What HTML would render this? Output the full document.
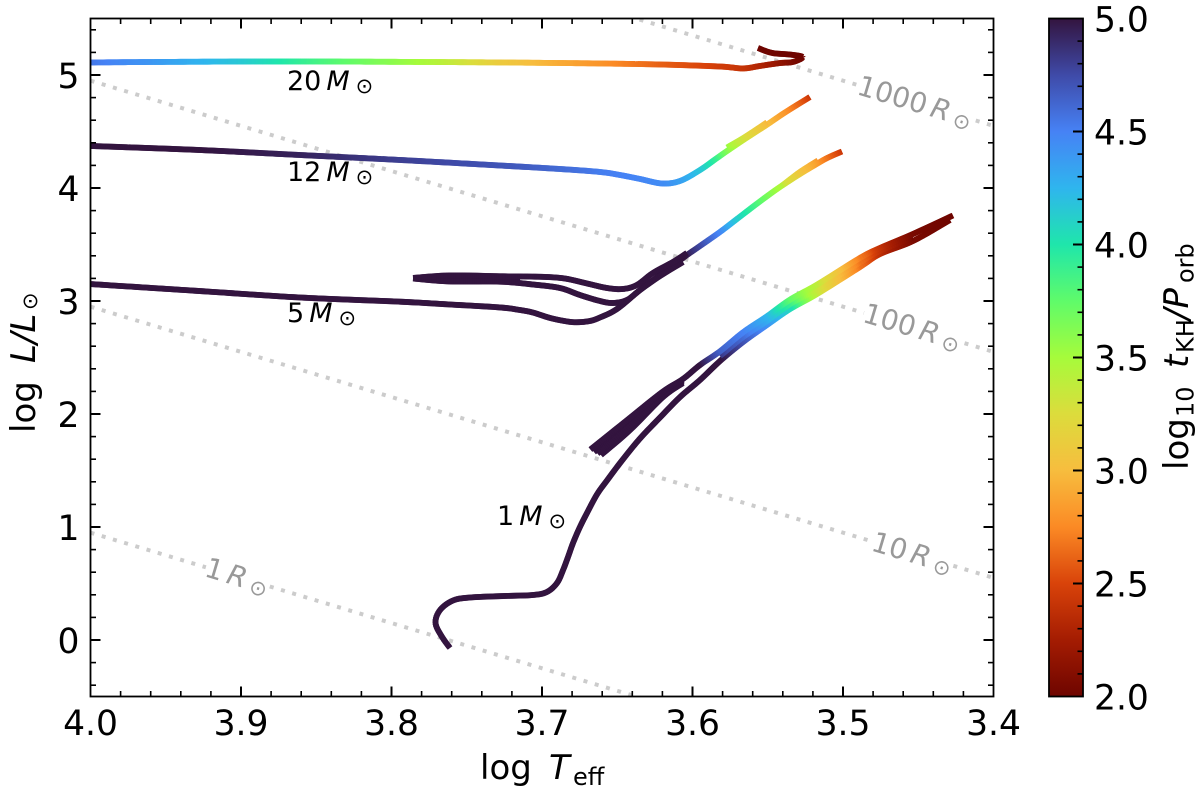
<!DOCTYPE html>
<html lang="en">
<head>
<meta charset="utf-8">
<title>HR diagram</title>
<style>
html,body{margin:0;padding:0;background:#fff;}
svg{display:block;}
text{font-family:"DejaVu Sans","Liberation Sans",sans-serif;}
</style>
</head>
<body>
<svg id="chart" xmlns="http://www.w3.org/2000/svg" width="1200" height="793" viewBox="0 0 1200 793">
  <defs>
    <clipPath id="plot-clip"><rect x="90.5" y="18.5" width="903" height="678"></rect></clipPath>
    <linearGradient id="cbar-gradient" x1="0" y1="0" x2="0" y2="1"></linearGradient>
  </defs>
  <rect x="0" y="0" width="1200" height="793" fill="#fff"></rect>
  <g id="radius-lines" clip-path="url(#plot-clip)"></g>
  <g id="tracks" clip-path="url(#plot-clip)"></g>
  <g id="mass-labels" font-size="27" fill="#000">
    <text x="287" y="90">20<tspan dx="5" font-style="italic">M</tspan><tspan dx="6" dy="3" font-size="21">⊙</tspan></text>
    <text x="287" y="181">12<tspan dx="5" font-style="italic">M</tspan><tspan dx="6" dy="3" font-size="21">⊙</tspan></text>
    <text x="287" y="322">5<tspan dx="5" font-style="italic">M</tspan><tspan dx="6" dy="3" font-size="21">⊙</tspan></text>
    <text x="497" y="525">1<tspan dx="5" font-style="italic">M</tspan><tspan dx="6" dy="3" font-size="21">⊙</tspan></text>
  </g>
  <g id="axes"></g>
  <rect x="90.5" y="18.5" width="903" height="678" fill="none" stroke="#000" stroke-width="1.8"></rect>
  <text y="779" font-size="34" fill="#000"><tspan x="480">log</tspan><tspan x="549" font-style="italic">T</tspan><tspan x="573" y="785" font-size="24">eff</tspan></text>
  <text transform="translate(35,433) rotate(-90)" font-size="34" fill="#000"><tspan x="0" y="0">log</tspan><tspan x="70" font-style="italic">L/L</tspan><tspan x="123" y="2" font-size="21">⊙</tspan></text>
  <rect x="1049" y="18.5" width="34" height="678" fill="url(#cbar-gradient)" stroke="#000" stroke-width="1.8"></rect>
  <g id="cbar-axis"></g>
  <text transform="translate(1188,470) rotate(-90)" font-size="34" fill="#000"><tspan x="0" y="0">log</tspan><tspan x="53" y="5.5" font-size="24">10</tspan><tspan x="102" y="0" font-style="italic">t</tspan><tspan x="117" y="5.5" font-size="24">KH</tspan><tspan x="150" y="0" font-style="italic">/P</tspan><tspan x="187" y="5.5" font-size="24">orb</tspan></text>
</svg>
<script>
// ---------- axis ranges ----------
const xDomain = [4.0, 3.4];
const yDomain = [-0.5, 5.5];
const cbarDomain = [2.0, 5.0];

// ---------- tick labels ----------
const xTickLabels = ["4.0", "3.9", "3.8", "3.7", "3.6", "3.5", "3.4"];
const yTickLabels = ["0", "1", "2", "3", "4", "5"];
const cbarTickLabels = ["2.0", "2.5", "3.0", "3.5", "4.0", "4.5", "5.0"];

// ---------- colormap: value -> colour ----------
const cmapValues = [2.0, 2.25, 2.5, 2.75, 3.0, 3.25, 3.5, 3.75, 4.0, 4.25, 4.5, 4.75, 5.0];
const cmapColors = ["#6e0500", "#a41c02", "#d9430a", "#fb8a25", "#f7bd3e", "#dcdc3c", "#a6fb3b", "#5ffb6a", "#1fe6ab", "#2fb5ee", "#4682f5", "#3f4aa8", "#33143f"];

// ---------- constant-radius lines ----------
const radiusValues = ["1", "10", "100", "1000"];
const radiusLAtHot = [0.95, 2.95, 4.95, 6.95];
const radiusLAtCool = [-1.45, 0.55, 2.55, 4.55];
const radiusLabelTeff = [3.9027, 3.4541, 3.4541, 3.4522];

// ---------- 20 Msun ----------
const t20Teff = [4.000, 3.9605, 3.9007, 3.8409, 3.7744, 3.7279, 3.6880, 3.6615, 3.6216, 3.5817, 3.5665, 3.5552, 3.5419, 3.5332, 3.5266, 3.5352, 3.5472, 3.5565];
const t20L = [5.111, 5.115, 5.119, 5.119, 5.115, 5.111, 5.106, 5.102, 5.093, 5.075, 5.058, 5.080, 5.106, 5.115, 5.159, 5.181, 5.195, 5.239];
const t20Val = [4.55, 4.4, 4.15, 3.8, 3.45, 3.1, 2.9, 2.8, 2.6, 2.45, 2.4, 2.3, 2.15, 2.05, 2.0, 2.0, 2.0, 2.0];

// ---------- 12 Msun ----------
const t12Teff = [4.000, 3.9272, 3.8608, 3.7944, 3.7279, 3.6880, 3.6615, 3.6482, 3.6349, 3.6203, 3.6083, 3.5950, 3.5851, 3.5771, 3.5652, 3.5499, 3.5386, 3.5220];
const t12L = [4.372, 4.336, 4.292, 4.248, 4.199, 4.168, 4.142, 4.115, 4.080, 4.040, 4.062, 4.159, 4.252, 4.327, 4.434, 4.566, 4.668, 4.805];
const t12Val = [5, 5, 4.93, 4.8, 4.7, 4.6, 4.52, 4.5, 4.48, 4.45, 4.35, 4.15, 3.9, 3.6, 3.3, 3.0, 2.8, 2.4];
const t12bTeff = [3.5771, 3.5652, 3.5505];
const t12bL = [4.358, 4.451, 4.580];
const t12bVal = [3.55, 3.25, 2.95];

// ---------- 5 Msun ----------
const t5Teff = [4.000, 3.9272, 3.8608, 3.7944, 3.7611, 3.7279, 3.7146, 3.7060, 3.6947, 3.6834, 3.6767, 3.6681, 3.6615, 3.6502, 3.6349, 3.6216, 3.6063, 3.6037, 3.5950, 3.5817, 3.5718, 3.5552, 3.5419, 3.5286, 3.5186, 3.5106, 3.5007];
const t5L = [3.150, 3.088, 3.031, 2.994, 2.969, 2.943, 2.920, 2.898, 2.850, 2.819, 2.812, 2.823, 2.854, 2.929, 3.097, 3.230, 3.381, 3.407, 3.487, 3.611, 3.712, 3.881, 4.009, 4.124, 4.204, 4.265, 4.323];
const t5Val = [5, 5, 5, 5, 5, 5, 5, 5, 5, 5, 5, 5, 5, 5, 5, 5, 5, 4.95, 4.75, 4.45, 4.15, 3.75, 3.45, 3.1, 2.85, 2.65, 2.4];
const t5bTeff = [3.5399, 3.5286, 3.5166];
const t5bL = [4.027, 4.142, 4.243];
const t5bVal = [3.35, 3.05, 2.8];
const t5TopTeff = [3.7857, 3.7611, 3.7279, 3.7080, 3.6947, 3.6834, 3.6701, 3.6568, 3.6462, 3.6369, 3.6263, 3.6130, 3.6037];
const t5TopL = [3.204, 3.226, 3.219, 3.216, 3.211, 3.196, 3.155, 3.115, 3.106, 3.142, 3.248, 3.345, 3.425];
const t5TopVal = [5, 5, 5, 5, 5, 5, 5, 5, 5, 5, 5, 5, 5];
const t5MidTeff = [3.7857, 3.7611, 3.7279, 3.7060, 3.6880, 3.6748, 3.6615, 3.6528, 3.6435, 3.6349, 3.6216, 3.6063];
const t5MidL = [3.199, 3.173, 3.171, 3.146, 3.115, 3.053, 3.000, 2.982, 3.009, 3.097, 3.221, 3.345];
const t5MidVal = [5, 5, 5, 5, 5, 5, 5, 5, 5, 5, 5, 5];
const t5FillTeff = [3.7857, 3.7611, 3.7279, 3.7146];
const t5FillL = [3.199, 3.199, 3.196, 3.190];
const t5FillVal = [5, 5, 5, 5];

// ---------- 1 Msun ----------
const t1RiseTeff = [3.7611, 3.7664, 3.7708, 3.7678, 3.7591, 3.7478, 3.7259, 3.7060, 3.6967, 3.6900, 3.6860, 3.6827, 3.6794, 3.6748, 3.6701, 3.6635, 3.6568, 3.6468, 3.6349, 3.6216, 3.6083, 3.5950, 3.5817, 3.5664, 3.5505, 3.5352, 3.5173, 3.4887, 3.4754, 3.4535, 3.4289];
const t1RiseL = [-0.071, 0.027, 0.150, 0.265, 0.350, 0.376, 0.389, 0.398, 0.425, 0.504, 0.619, 0.735, 0.858, 1.000, 1.124, 1.288, 1.412, 1.589, 1.783, 1.969, 2.150, 2.301, 2.469, 2.637, 2.788, 2.929, 3.062, 3.301, 3.416, 3.531, 3.717];
const t1RiseVal = [5, 5, 5, 5, 5, 5, 5, 5, 5, 5, 5, 5, 5, 5, 5, 5, 5, 5, 5, 5, 5, 5, 5, 4.7, 4.4, 4.05, 3.35, 2.65, 2.35, 2.05, 2.0];
const t1FillTeff = [3.4535, 3.4754, 3.4887, 3.5173, 3.5352, 3.5505, 3.5664, 3.5817];
const t1FillL = [3.562, 3.443, 3.341, 3.106, 2.973, 2.823, 2.681, 2.513];
const t1FillVal = [2.02, 2.4, 2.68, 3.35, 3.9, 4.3, 4.6, 4.85];
const t1FanBTeff = [3.6063, 3.6196, 3.6415, 3.6608];
const t1FanBL = [2.274, 2.150, 1.858, 1.637];
const t1FanBVal = [5, 5, 5, 5];
const t1FanCTeff = [3.6063, 3.6196, 3.6415, 3.6654];
const t1FanCL = [2.301, 2.183, 1.929, 1.664];
const t1FanCVal = [5, 5, 5, 5];
const t1FanDTeff = [3.6063, 3.6196, 3.6415, 3.6631];
const t1FanDL = [2.287, 2.168, 1.894, 1.650];
const t1FanDVal = [5, 5, 5, 5];
const t1BackTeff = [3.4269, 3.4535, 3.4754, 3.4887, 3.5173, 3.5352, 3.5505, 3.5664, 3.5817, 3.5950, 3.6063, 3.6196, 3.6415, 3.6678];
const t1BackL = [3.757, 3.593, 3.469, 3.381, 3.144, 3.012, 2.865, 2.723, 2.555, 2.434, 2.310, 2.199, 1.967, 1.686];
const t1BackVal = [2, 2.05, 2.4, 2.7, 3.4, 3.75, 4.25, 4.5, 4.65, 5, 5, 5, 5, 5];

// ---------- drawing order ----------
const tracks = [
  ["track-20-msun", t20Teff, t20L, t20Val],
  ["track-12-msun", t12Teff, t12L, t12Val],
  ["track-12-msun-late", t12bTeff, t12bL, t12bVal],
  ["track-5-msun", t5Teff, t5L, t5Val],
  ["track-5-msun-late", t5bTeff, t5bL, t5bVal],
  ["track-5-msun-loop-fill", t5FillTeff, t5FillL, t5FillVal],
  ["track-5-msun-loop-mid", t5MidTeff, t5MidL, t5MidVal],
  ["track-5-msun-loop-top", t5TopTeff, t5TopL, t5TopVal],
  ["track-1-msun-rise", t1RiseTeff, t1RiseL, t1RiseVal],
  ["track-1-msun-band-fill", t1FillTeff, t1FillL, t1FillVal],
  ["track-1-msun-fan-b", t1FanBTeff, t1FanBL, t1FanBVal],
  ["track-1-msun-fan-c", t1FanCTeff, t1FanCL, t1FanCVal],
  ["track-1-msun-fan-d", t1FanDTeff, t1FanDL, t1FanDVal],
  ["track-1-msun-return", t1BackTeff, t1BackL, t1BackVal]
];

// ---------- axis functions ----------
const plotLeft = 90.5, plotRight = 993.5, plotTop = 18.5, plotBottom = 696.5;
function xScale(t) { return plotLeft + (t - xDomain[0]) / (xDomain[1] - xDomain[0]) * (plotRight - plotLeft); }
function yScale(l) { return plotBottom - (l - yDomain[0]) / (yDomain[1] - yDomain[0]) * (plotBottom - plotTop); }
function cbarScale(v) { return plotBottom - (v - cbarDomain[0]) / (cbarDomain[1] - cbarDomain[0]) * (plotBottom - plotTop); }

const NS = "http://www.w3.org/2000/svg";
function mk(tag, attrs, parent) {
  const el = document.createElementNS(NS, tag);
  for (const k in attrs) el.setAttribute(k, attrs[k]);
  parent.appendChild(el);
  return el;
}
function hexToRgb(h) { return [parseInt(h.slice(1, 3), 16), parseInt(h.slice(3, 5), 16), parseInt(h.slice(5, 7), 16)]; }
function colorFor(v) {
  const c = Math.max(cmapValues[0], Math.min(cmapValues[cmapValues.length - 1], v));
  let i = 0;
  while (i < cmapValues.length - 2 && c > cmapValues[i + 1]) i++;
  const f = (c - cmapValues[i]) / (cmapValues[i + 1] - cmapValues[i]);
  const a = hexToRgb(cmapColors[i]), b = hexToRgb(cmapColors[i + 1]);
  return "rgb(" + a.map((x, j) => Math.round(x + (b[j] - x) * f)).join(",") + ")";
}

// colourbar gradient
const gradient = document.getElementById("cbar-gradient");
for (let i = cmapValues.length - 1; i >= 0; i--) {
  mk("stop", { offset: (cbarDomain[1] - cmapValues[i]) / (cbarDomain[1] - cbarDomain[0]), "stop-color": cmapColors[i] }, gradient);
}

// axes ticks
const axes = document.getElementById("axes");
const TICK_MAJOR = 10, TICK_MINOR = 5.5;
function drawTick(parent, x1, y1, x2, y2, major, name) {
  const t = mk("line", { x1: x1, y1: y1, x2: x2, y2: y2, stroke: "#000", "stroke-width": major ? 2 : 1.6 }, parent);
  
  
}
function drawLabel(parent, x, y, anchor, str, name) {
  const t = mk("text", { x: x, y: y, "text-anchor": anchor, "font-size": 34.5, fill: "#000" }, parent);
  t.textContent = str;
  
  
}
xTickLabels.forEach(function (lab, i) {
  const v = parseFloat(lab), x = xScale(v);
  drawLabel(axes, x, 735, "middle", lab, "x-tick-label");
  if (i > 0 && i < xTickLabels.length - 1) {
    drawTick(axes, x, plotBottom, x, plotBottom - TICK_MAJOR, true, "x-tick-major");
    drawTick(axes, x, plotTop, x, plotTop + TICK_MAJOR, true, "x-tick-major-top");
  }
  if (i < xTickLabels.length - 1) {
    for (let m = 1; m < 5; m++) {
      const xm = xScale(v - m * 0.02);
      drawTick(axes, xm, plotBottom, xm, plotBottom - TICK_MINOR, false, "x-tick-minor");
      drawTick(axes, xm, plotTop, xm, plotTop + TICK_MINOR, false, "x-tick-minor-top");
    }
  }
});
for (let n = -2; n <= 27; n++) {
  const v = n * 0.2;
  if (n % 5 === 0) continue;
  const y = yScale(v);
  drawTick(axes, plotLeft, y, plotLeft + TICK_MINOR, y, false, "y-tick-minor");
  drawTick(axes, plotRight, y, plotRight - TICK_MINOR, y, false, "y-tick-minor-right");
}
yTickLabels.forEach(function (lab) {
  const y = yScale(parseFloat(lab));
  drawLabel(axes, 79.5, y + 13, "end", lab, "y-tick-label");
  drawTick(axes, plotLeft, y, plotLeft + TICK_MAJOR, y, true, "y-tick-major");
  drawTick(axes, plotRight, y, plotRight - TICK_MAJOR, y, true, "y-tick-major-right");
});

// colourbar ticks
const cbarAxis = document.getElementById("cbar-axis");
cbarTickLabels.forEach(function (lab, i) {
  const v = parseFloat(lab), y = cbarScale(v);
  drawLabel(cbarAxis, 1094, y + 13, "start", lab, "colorbar-tick-label");
  if (i > 0 && i < cbarTickLabels.length - 1) drawTick(cbarAxis, 1083, y, 1073, y, true, "colorbar-tick-major");
  if (i < cbarTickLabels.length - 1) {
    for (let m = 1; m < 5; m++) {
      const ym = cbarScale(v + m * 0.1);
      drawTick(cbarAxis, 1083, ym, 1077.5, ym, false, "colorbar-tick-minor");
    }
  }
});

// radius lines + inline labels
const radiusLayer = document.getElementById("radius-lines");
radiusValues.forEach(function (r, i) {
  const ln = mk("line", {
    x1: xScale(xDomain[0]), y1: yScale(radiusLAtHot[i]), x2: xScale(xDomain[1]), y2: yScale(radiusLAtCool[i]),
    stroke: "#cccccc", "stroke-width": 4, "stroke-dasharray": "4 7.7"
  }, radiusLayer);
  
  

  const lt = radiusLabelTeff[i];
  const frac = (lt - xDomain[0]) / (xDomain[1] - xDomain[0]);
  const ll = radiusLAtHot[i] + (radiusLAtCool[i] - radiusLAtHot[i]) * frac;
  const px = xScale(lt), py = yScale(ll);
  const angle = Math.atan2(yScale(radiusLAtCool[i]) - yScale(radiusLAtHot[i]), xScale(xDomain[1]) - xScale(xDomain[0])) * 180 / Math.PI;
  const g = mk("g", { transform: "translate(" + px + "," + py + ") rotate(" + angle + ")" }, radiusLayer);
  
  
  const bg = mk("rect", { fill: "#fff" }, g);
  
  
  const tx = mk("text", { x: 0, y: 9, "text-anchor": "middle", "font-size": 28, fill: "#999999" }, g);
  
  
  tx.appendChild(document.createTextNode(r));
  const tM = mk("tspan", { dx: 5, "font-style": "italic" }, tx);
  tM.textContent = "R";
  const tS = mk("tspan", { dx: 5, dy: 3, "font-size": 21 }, tx);
  tS.textContent = "⊙";
  const w = tx.getComputedTextLength();
  bg.setAttribute("x", -w / 2 - 5);
  bg.setAttribute("width", w + 10);
  bg.setAttribute("y", -8);
  bg.setAttribute("height", 16);
});

// tracks: each hand-read point goes through the axis functions and is
// smoothed for drawing with small coloured strokes
const trackLayer = document.getElementById("tracks");
const LINE_W = 5.8;
function catmull(a, b, c, d, s) {
  return 0.5 * (2 * b + (c - a) * s + (2 * a - 5 * b + 4 * c - d) * s * s + (3 * b - a - 3 * c + d) * s * s * s);
}
tracks.forEach(function (tr) {
  const name = tr[0], teff = tr[1], lum = tr[2], vals = tr[3];
  const g = mk("g", { fill: "none" }, trackLayer);
  
  
  const xs = teff.map(xScale), ys = lum.map(yScale);
  const n = xs.length, pts = [];
  for (let i = 0; i < n - 1; i++) {
    const i0 = Math.max(0, i - 1), i3 = Math.min(n - 1, i + 2);
    const len = Math.hypot(xs[i + 1] - xs[i], ys[i + 1] - ys[i]);
    const steps = Math.max(2, Math.ceil(len / 2));
    for (let s = 0; s < steps; s++) {
      const f = s / steps;
      pts.push([catmull(xs[i0], xs[i], xs[i + 1], xs[i3], f), catmull(ys[i0], ys[i], ys[i + 1], ys[i3], f), vals[i] + (vals[i + 1] - vals[i]) * f]);
    }
  }
  pts.push([xs[n - 1], ys[n - 1], vals[n - 1]]);
  for (let k = 0; k < pts.length - 1; k++) {
    const e = pts[Math.min(k + 2, pts.length - 1)];
    const seg = mk("line", { x1: pts[k][0].toFixed(2), y1: pts[k][1].toFixed(2), x2: e[0].toFixed(2), y2: e[1].toFixed(2), stroke: colorFor(pts[k][2]), "stroke-width": LINE_W }, g);
    
    
  }
});
</script>
</body>
</html>
